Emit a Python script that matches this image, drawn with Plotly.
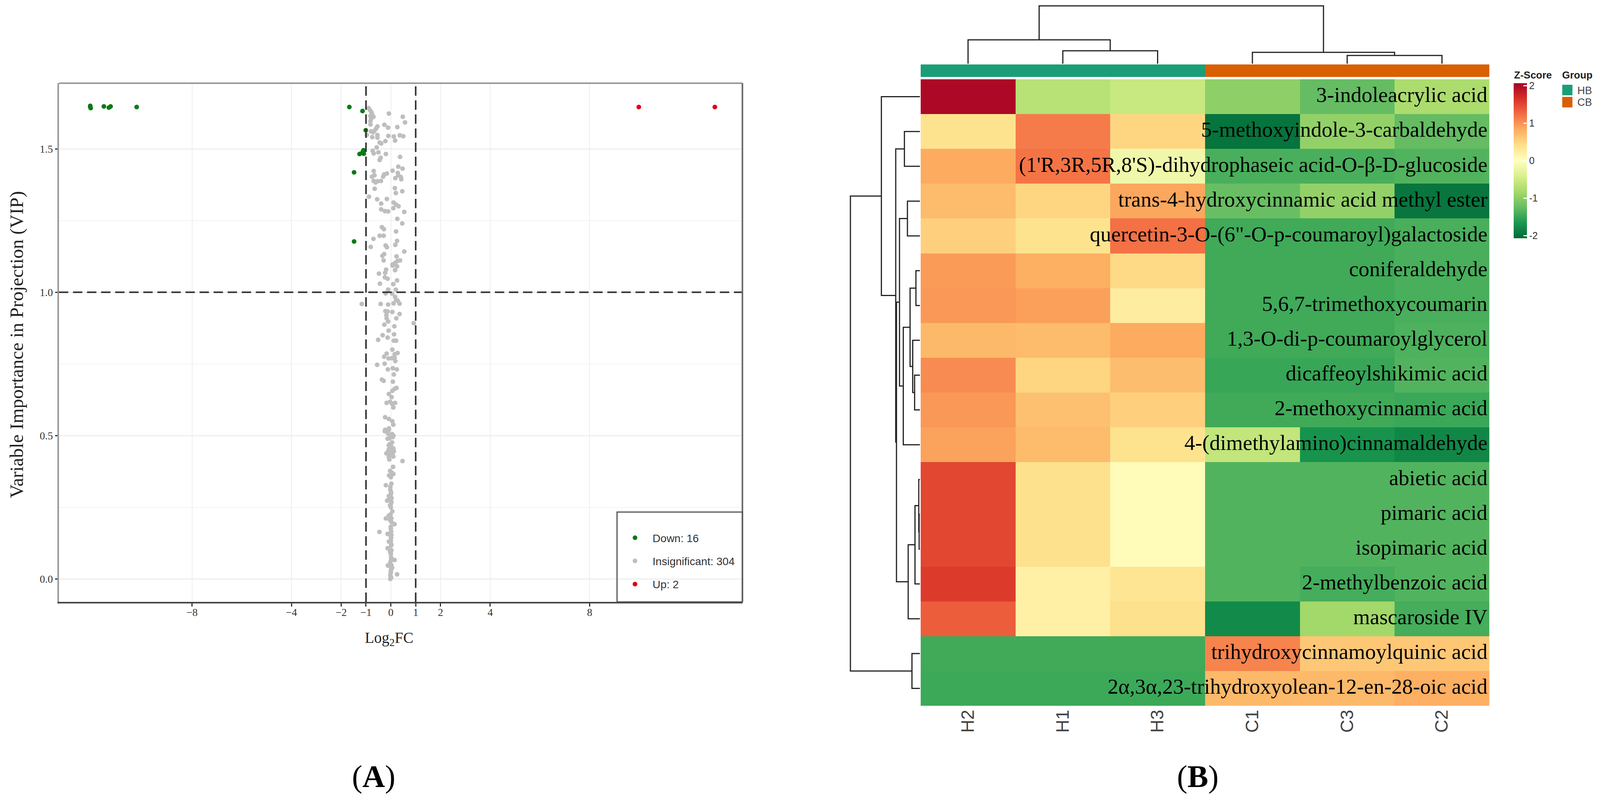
import plotly.graph_objects as go

# positions below are read in reference pixels, the browser only gives 4096 wide
W = 4237
H = 2038
PAGE_W = 4096

# panel A, values
down_fc = [-12.1, -12.08, -12.1, -11.55, -11.35, -11.28, -10.23, -1.67, -1.14, -1.01, -1.26, -1.13, -1.09, -1.10, -1.48, -1.48]
down_vip = [1.646, 1.642, 1.650, 1.648, 1.644, 1.648, 1.646, 1.646, 1.632, 1.565, 1.482, 1.490, 1.483, 1.495, 1.418, 1.177]
up_fc = [9.98, 13.04]
up_vip = [1.646, 1.646]

ns_fc = [-0.89, -0.84, -0.79, -0.76, -0.82, -0.70, -0.79, -0.82, -0.82, -0.08, 0.48, 0.57, -0.26, -0.11, 0.26,
         -0.54, -0.59, -0.66, -0.71, -0.80, -0.97, -0.75, -0.54, -0.54, -0.10, 0.12, 0.17, 0.36, 0.50, -0.22,
         -0.45, -0.39, -0.57, -0.73, -0.69, -0.50, -0.20, 0.37, -0.41, -0.45, 0.30, 0.47, 0.07, -0.69, -0.16,
         -0.27, -0.31, 0.28, 0.30, 0.18, 0.40, 0.42, -0.76, -0.66, -0.69, -0.61, -0.54, -0.40, -0.65, 0.16,
         0.20, 0.46, -0.88, -0.55, -0.16, -0.39, 0.11, 0.20, 0.31, 0.10, -0.39, -0.24, -0.11, 0.54, 0.26,
         0.46, -0.36, -0.28, 0.21, -0.45, -0.29, -0.70, 0.25, 0.18, -0.21, -0.16, -0.81, 0.54, -0.27, -0.34,
         0.23, -0.29, 0.37, 0.27, 0.17, 0.07,
         0.07, 0.25, 0.17, -0.19, -0.23, -0.48, -0.24, -0.13, 0.25, -0.44, 0.10, -0.11, 0.20, -0.21, 0.05,
         0.17, 0.21, 0.11, 0.35, 0.28, -1.17, -0.41, -0.11, -0.22, -0.13, 0.06, 0.35, -0.18, -0.17, 0.22,
         -0.11, -0.26, 0.92, 0.14, -0.09, 0.13, -0.33, -0.13, -0.51, 0.12, 0.21, 0.06, -0.17, 0.27, -0.27,
         0.15, -0.09, 0.05, 0.15, 0.18, -0.55, -0.25, -0.12, 0.08, 0.24, 0.12, -0.36, -0.29, 0.08, 0.23,
         0.15, 0.06, -0.08, 0.03, -0.17, -0.03, 0.17, 0.05, 0.10, -0.23, -0.08, 0.06, 0.10, -0.08, -0.23,
         -0.24, -0.08, -0.11, 0.10, -0.03, -0.13, 0.05, -0.08, 0.02, 0.10, -0.08, 0.00, 0.12, -0.18, -0.08,
         0.10, -0.08, -0.06, 0.47, 0.09, -0.03, 0.10, -0.07, 0.02, -0.20, -0.02, 0.01, -0.08, 0.03, -0.15,
         0.02, -0.03, 0.06, -0.08, -0.20, 0.02, 0.15, 0.00, -0.46, -0.13, 0.02, 0.00, -0.08, -0.13, 0.01,
         0.02, 0.00, 0.15, 0.01, -0.12, 0.02, 0.05, 0.00, 0.25, -0.02, -0.02,
         -0.05, 0.00, 0.05, -0.04, 0.04, -0.10, 0.08, 0.00, 0.02, 0.00, 0.01, -0.02, 0.00, 0.00, 0.01, -0.03,
         0.01, 0.00, 0.01, 0.03, -0.04, -0.01, 0.00, 0.00, -0.06, 0.00, -0.02, 0.00, 0.05, -0.06, 0.05, 0.08]
ns_vip = [1.642, 1.635, 1.629, 1.622, 1.615, 1.612, 1.606, 1.597, 1.585, 1.623, 1.612, 1.592, 1.584, 1.574, 1.576,
          1.578, 1.571, 1.563, 1.558, 1.561, 1.549, 1.541, 1.548, 1.539, 1.545, 1.543, 1.529, 1.547, 1.544, 1.527,
          1.522, 1.519, 1.505, 1.493, 1.484, 1.488, 1.482, 1.472, 1.469, 1.461, 1.438, 1.431, 1.424, 1.423, 1.414,
          1.411, 1.403, 1.416, 1.408, 1.398, 1.402, 1.394, 1.403, 1.408, 1.388, 1.383, 1.387, 1.388, 1.361, 1.363,
          1.346, 1.352, 1.333, 1.324, 1.325, 1.309, 1.313, 1.306, 1.300, 1.293, 1.289, 1.283, 1.282, 1.280, 1.256,
          1.240, 1.227, 1.220, 1.212, 1.197, 1.197, 1.186, 1.179, 1.165, 1.163, 1.157, 1.158, 1.142, 1.133, 1.127,
          1.125, 1.111, 1.111, 1.109, 1.102, 1.097,
          1.093, 1.090, 1.077, 1.079, 1.068, 1.065, 1.052, 1.047, 1.041, 1.030, 1.028, 1.009, 1.009, 0.996, 0.995,
          0.984, 0.974, 0.961, 0.960, 0.970, 0.959, 0.959, 0.957, 0.934, 0.933, 0.931, 0.924, 0.920, 0.909, 0.909,
          0.898, 0.887, 0.892, 0.881, 0.866, 0.853, 0.850, 0.842, 0.834, 0.831, 0.831, 0.800, 0.786, 0.788, 0.775,
          0.784, 0.769, 0.770, 0.772, 0.760, 0.747, 0.751, 0.731, 0.735, 0.731, 0.713, 0.695, 0.691, 0.688, 0.666,
          0.663, 0.656, 0.645, 0.634, 0.614, 0.618, 0.614, 0.611, 0.598, 0.564, 0.558, 0.550, 0.538, 0.525, 0.520,
          0.515, 0.520, 0.507, 0.500, 0.500, 0.489, 0.476, 0.466, 0.461, 0.455, 0.452, 0.445, 0.445, 0.438, 0.436,
          0.427, 0.425, 0.417, 0.411, 0.391, 0.377, 0.366, 0.361, 0.332, 0.327, 0.321, 0.302, 0.289, 0.282, 0.273,
          0.268, 0.257, 0.236, 0.221, 0.211, 0.212, 0.191, 0.182, 0.164, 0.157, 0.153, 0.132, 0.130, 0.107, 0.116,
          0.100, 0.087, 0.066, 0.066, 0.047, 0.048, 0.039, 0.028, 0.016, 0.012, 0.000,
          0.470, 0.458, 0.448, 0.440, 0.433, 0.446, 0.440, 0.145, 0.120, 0.095, 0.075, 0.058, 0.040, 0.022, 0.005, 0.095,
          0.143, 0.175, 0.165, 0.198, 0.206, 0.225, 0.250, 0.262, 0.280, 0.295, 0.311, 0.355, 0.370, 0.490, 0.505, 0.495]

fc_ticks = [-8, -4, -2, -1, 0, 1, 2, 4, 8]
vip_ticks = [0.0, 0.5, 1.0, 1.5]
vip_minor = [0.25, 0.75, 1.25]

# panel B
samples = ['H2', 'H1', 'H3', 'C1', 'C3', 'C2']
sample_group = [0, 0, 0, 1, 1, 1]
compounds = [
    '3-indoleacrylic acid',
    '5-methoxyindole-3-carbaldehyde',
    "(1'R,3R,5R,8'S)-dihydrophaseic acid-O-β-D-glucoside",
    'trans-4-hydroxycinnamic acid methyl ester',
    'quercetin-3-O-(6"-O-p-coumaroyl)galactoside',
    'coniferaldehyde',
    '5,6,7-trimethoxycoumarin',
    '1,3-O-di-p-coumaroylglycerol',
    'dicaffeoylshikimic acid',
    '2-methoxycinnamic acid',
    '4-(dimethylamino)cinnamaldehyde',
    'abietic acid',
    'pimaric acid',
    'isopimaric acid',
    '2-methylbenzoic acid',
    'mascaroside IV',
    'trihydroxycinnamoylquinic acid',
    '2α,3α,23-trihydroxyolean-12-en-28-oic acid',
]
zscore = [
    [2.00, -0.68, -0.55, -0.98, -1.25, -0.78],
    [0.38, 1.15, 0.50, -1.97, -0.95, -1.25],
    [0.85, 1.20, -0.17, -1.40, -1.40, -1.35],
    [0.72, 0.50, 0.87, -1.22, -0.95, -1.95],
    [0.55, 0.38, 1.22, -1.45, -1.45, -1.40],
    [0.95, 0.82, 0.46, -1.45, -1.45, -1.40],
    [0.97, 0.92, 0.25, -1.45, -1.45, -1.40],
    [0.74, 0.72, 0.85, -1.45, -1.45, -1.38],
    [1.05, 0.50, 0.70, -1.50, -1.50, -1.35],
    [0.97, 0.68, 0.55, -1.45, -1.45, -1.48],
    [0.90, 0.72, 0.38, -0.60, -1.70, -1.80],
    [1.50, 0.40, 0.05, -1.35, -1.35, -1.35],
    [1.50, 0.40, 0.05, -1.35, -1.35, -1.35],
    [1.50, 0.40, 0.05, -1.35, -1.35, -1.35],
    [1.58, 0.20, 0.35, -1.35, -1.42, -1.35],
    [1.35, 0.20, 0.40, -1.78, -0.85, -1.42],
    [-1.45, -1.45, -1.45, 1.10, 0.62, 0.62],
    [-1.47, -1.47, -1.47, 0.74, 0.74, 0.82],
]
zscore_ticks = [-2, -1, 0, 1, 2]
zscore_ticktext = ['-2', '-1', '0', '1', '2']

# (left child, right child, distance), ids above the leaf count are earlier merges
row_links = [(12, 13, 2), (11, 18, 3), (19, 14, 13), (20, 15, 31), (16, 17, 21), (5, 6, 10.5), (8, 9, 14),
             (7, 24, 19), (23, 25, 26), (26, 10, 44), (3, 4, 33), (28, 27, 54), (29, 21, 62), (1, 2, 41),
             (31, 30, 64), (0, 32, 102), (33, 22, 184)]
col_links = [(1, 2, 33), (0, 6, 61), (4, 5, 21), (3, 8, 29), (7, 9, 148)]

heat_colors = ['#006837', '#1a9850', '#66bd63', '#a6d96a', '#d9ef8b', '#ffffbf',
               '#fee08b', '#fdae61', '#f46d43', '#d73027', '#a50026']
HB_COLOR = '#1b9e77'
CB_COLOR = '#d95f02'
SERIF = 'Liberation Serif'
SANS = 'Liberation Sans'


def xdom(left, right):
    return [left / W, right / W]


def ydom(top, bottom):
    return [1 - bottom / H, 1 - top / H]


def dendro_lines(links, n_leaves):
    # elbow path for each merge, leaves sit at height 0 and index position
    pos = {i: float(i) for i in range(n_leaves)}
    height = {i: 0.0 for i in range(n_leaves)}
    depth = []
    place = []
    for k, (a, b, h) in enumerate(links):
        depth += [height[a], h, h, height[b], None]
        place += [pos[a], pos[a], pos[b], pos[b], None]
        node = n_leaves + k
        pos[node] = (pos[a] + pos[b]) / 2
        height[node] = h
    return depth, place


fig = go.Figure()

# volcano
for name, xs, ys, col in [('Down: 16', down_fc, down_vip, '#0b7a14'),
                          ('Insignificant: 304', ns_fc, ns_vip, '#bebebe'),
                          ('Up: 2', up_fc, up_vip, '#e0000f')]:
    fig.add_trace(go.Scatter(x=xs, y=ys, mode='markers', name=name, legendgroup=name,
                             marker=dict(color=col, size=12), xaxis='x', yaxis='y'))

dash_line = dict(color='#333333', width=4, dash='24px,12px')
fig.add_shape(type='line', x0=0, x1=1, y0=1, y1=1, xref='x domain', yref='y', line=dash_line)
fig.add_shape(type='line', x0=-1, x1=-1, y0=0, y1=1, xref='x', yref='y domain', line=dash_line)
fig.add_shape(type='line', x0=1, x1=1, y0=0, y1=1, xref='x', yref='y domain', line=dash_line)

# top and right frame are lighter than the bottom axis
fig.add_shape(type='line', x0=0, x1=1, y0=1, y1=1, xref='x domain', yref='y domain',
              line=dict(color='#999999', width=4))
fig.add_shape(type='line', x0=1, x1=1, y0=0, y1=1, xref='x domain', yref='y domain',
              line=dict(color='#666666', width=4))
# legend box
fig.add_shape(type='rect', x0=1634 / W, x1=1966 / W, y0=1 - 1541 / H, y1=1 - 1311 / H, xref='paper', yref='paper',
              line=dict(color='#555555', width=3), fillcolor='rgba(0,0,0,0)')

# heatmap
colorscale = [[i / (len(heat_colors) - 1), c] for i, c in enumerate(heat_colors)]
fig.add_trace(go.Heatmap(z=zscore, x=list(range(len(samples))), y=list(range(len(compounds))),
                         colorscale=colorscale, zmin=-2.07, zmax=2.07, xaxis='x2', yaxis='y2',
                         xgap=0, ygap=0, hoverinfo='skip',
                         colorbar=dict(x=4008 / W, xanchor='left', y=1 - 610 / H, yanchor='bottom',
                                       len=397, lenmode='pixels', thickness=34, thicknessmode='pixels',
                                       tickvals=zscore_ticks, ticktext=zscore_ticktext,
                                       ticks='inside', ticklen=9, tickcolor='white', tickwidth=3,
                                       outlinewidth=0, xpad=0, ypad=0,
                                       tickfont=dict(family=SANS, size=25, color='#333333'))))
fig.add_trace(go.Scatter(x=[5.48] * len(compounds), y=list(range(len(compounds))), text=compounds,
                         mode='text', textposition='middle left', cliponaxis=False,
                         textfont=dict(family=SERIF, size=55, color='#000000'),
                         xaxis='x2', yaxis='y2', showlegend=False, hoverinfo='skip'))

# group bar
fig.add_trace(go.Heatmap(z=[sample_group], x=list(range(len(samples))), y=[0], zmin=0, zmax=1,
                         colorscale=[[0, HB_COLOR], [1, CB_COLOR]], showscale=False, xaxis='x5', yaxis='y5',
                         hoverinfo='skip'))

# dendrograms
d, p = dendro_lines(row_links, len(compounds))
fig.add_trace(go.Scatter(x=d, y=p, mode='lines', line=dict(color='#222222', width=3), cliponaxis=False,
                         xaxis='x3', yaxis='y3', showlegend=False, hoverinfo='skip'))
d, p = dendro_lines(col_links, len(samples))
# columns are drawn in the order of the heatmap
fig.add_trace(go.Scatter(x=p, y=d, mode='lines', line=dict(color='#222222', width=3), cliponaxis=False,
                         xaxis='x4', yaxis='y4', showlegend=False, hoverinfo='skip'))

hidden = dict(visible=False, showgrid=False, zeroline=False, fixedrange=True)

fig.update_layout(
    width=PAGE_W, height=H, margin=dict(l=0, r=0, t=0, b=0), paper_bgcolor='white', plot_bgcolor='white',
    xaxis=dict(domain=xdom(156, 1966), range=[-13.36, 14.15], tickvals=fc_ticks, ticks='outside', ticklen=8,
               tickwidth=3, tickcolor='#333333', linecolor='#444444', linewidth=4, showline=True,
               gridcolor='#eeeeee', gridwidth=2, zeroline=False, anchor='y', ticklabelstandoff=-8,
               tickfont=dict(family=SERIF, size=27, color='#333333')),
    yaxis=dict(domain=ydom(213, 1541), range=[-0.08, 1.729], tickvals=vip_ticks, tickformat='.1f', ticks='outside',
               ticklen=6, tickwidth=3, tickcolor='#333333', linecolor='#999999', linewidth=4, showline=True,
               gridcolor='#eeeeee', gridwidth=3, zeroline=False, anchor='x',
               minor=dict(tickvals=vip_minor, showgrid=True, gridcolor='#f4f4f4', gridwidth=2, ticklen=0),
               tickfont=dict(family=SERIF, size=27, color='#333333')),
    xaxis2=dict(domain=xdom(2438, 3944), range=[-0.5, 5.5], tickvals=list(range(len(samples))), ticktext=samples,
                tickangle=-90, ticks='', showgrid=False, zeroline=False, anchor='y2',
                tickfont=dict(family=SANS, size=46, color='#444444')),
    yaxis2=dict(domain=ydom(203, 1807), range=[17.5, -0.5], visible=False, showgrid=False, zeroline=False, anchor='x2'),
    xaxis3=dict(domain=xdom(2250, 2436), range=[186, 0], anchor='y3', **hidden),
    yaxis3=dict(domain=ydom(203, 1807), range=[17.5, -0.5], anchor='x3', **hidden),
    xaxis4=dict(domain=xdom(2438, 3944), range=[-0.5, 5.5], anchor='y4', **hidden),
    yaxis4=dict(domain=ydom(12, 163), range=[0, 151], anchor='x4', **hidden),
    xaxis5=dict(domain=xdom(2438, 3944), range=[-0.5, 5.5], anchor='y5', **hidden),
    yaxis5=dict(domain=ydom(165, 197), range=[-0.5, 0.5], anchor='x5', **hidden),
    legend=dict(x=1635 / W, xanchor='left', y=1 - 1352 / H, yanchor='top', bgcolor='rgba(0,0,0,0)', borderwidth=0,
                itemwidth=80, tracegroupgap=20, itemclick=False,
                font=dict(family=SANS, size=28, color='#333333')),
)

fig.add_shape(type='rect', xref='paper', yref='paper', x0=4137 / W, x1=4164 / W, y0=1 - 244 / H, y1=1 - 217 / H,
              fillcolor=HB_COLOR, line=dict(width=0))
fig.add_shape(type='rect', xref='paper', yref='paper', x0=4137 / W, x1=4164 / W, y0=1 - 275 / H, y1=1 - 248 / H,
              fillcolor=CB_COLOR, line=dict(width=0))


def note(text, px, py, size, family=SERIF, color='#222222', angle=0, anchor='center'):
    fig.add_annotation(text=text, x=px / W, y=1 - py / H, xref='paper', yref='paper', showarrow=False,
                       xanchor=anchor, yanchor='middle', textangle=angle,
                       font=dict(family=family, size=size, color=color))


note('Log<sub>2</sub>FC', 1030, 1635, 39)
note('Variable Importance in Projection (VIP)', 43, 883, 49, angle=-90)
note('(<b>A</b>)', 989, 1988, 80, color='#000000')
note('(<b>B</b>)', 3172, 1988, 80, color='#000000')
note('<b>Z-Score</b>', 4060, 192, 26, family=SANS)
note('<b>Group</b>', 4177, 192, 26, family=SANS)
note('HB', 4175, 232, 27, family=SANS, color='#444444', anchor='left')
note('CB', 4175, 262, 27, family=SANS, color='#444444', anchor='left')

fig.write_html("out.html", config={'displayModeBar': False}, post_script="document.body.style.margin='0';")
